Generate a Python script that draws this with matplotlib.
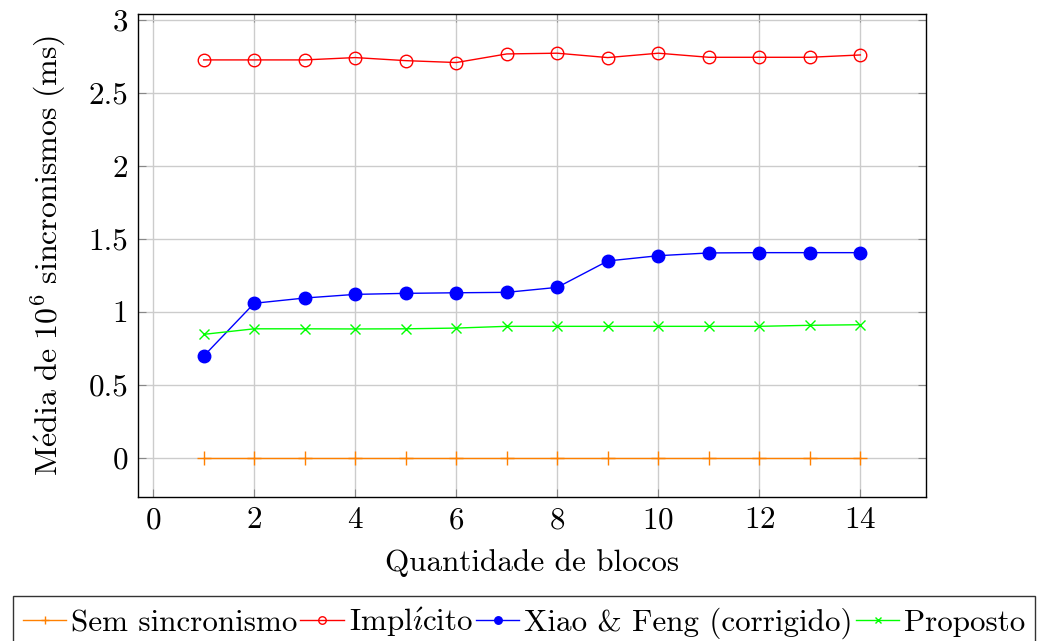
import matplotlib
matplotlib.use('Agg')
import matplotlib.pyplot as plt
from matplotlib.ticker import FuncFormatter

plt.rcParams['font.family'] = ['cmr10', 'DejaVu Serif']
plt.rcParams['mathtext.fontset'] = 'cm'
plt.rcParams['axes.formatter.use_mathtext'] = True
plt.rcParams['axes.unicode_minus'] = False

# dados
blocos = list(range(1, 15))
sem_sincronismo = [0.0] * 14
implicito = [2.726, 2.726, 2.726, 2.742, 2.721, 2.708, 2.767, 2.772, 2.742, 2.772, 2.744, 2.744, 2.744, 2.760]
xiao_feng = [0.696, 1.058, 1.094, 1.119, 1.126, 1.130, 1.133, 1.167, 1.348, 1.384, 1.403, 1.405, 1.405, 1.405]
proposto = [0.845, 0.883, 0.883, 0.882, 0.883, 0.888, 0.900, 0.900, 0.900, 0.900, 0.900, 0.900, 0.907, 0.911]

fs = 22.4

fig = plt.figure(figsize=(10.48, 6.41), dpi=100)
ax = fig.add_axes([0.1317, 0.2246, 0.7519, 0.7534])

ax.plot(blocos, sem_sincronismo, color=(1, 0.5, 0), marker='+', markersize=10, lw=1,
        label='Sem sincronismo')
ax.plot(blocos, implicito, color='red', marker='o', markerfacecolor='none', markersize=9, lw=1,
        label=r'$\mathrm{Impl\acute{\imath}cito}$')
ax.plot(blocos, xiao_feng, color='blue', marker='o', markersize=9, lw=1,
        label='Xiao & Feng (corrigido)')
ax.plot(blocos, proposto, color=(0, 1, 0), marker='x', markersize=7, lw=1,
        label='Proposto')

ax.set_xlim(-0.3, 15.3)
ax.set_ylim(-0.27, 3.04)
ax.set_xticks(range(0, 15, 2))
ax.set_yticks([0, 0.5, 1, 1.5, 2, 2.5, 3])
ax.yaxis.set_major_formatter(FuncFormatter(lambda v, p: '%g' % v))
ax.grid(True, color='#cccccc', lw=1)
ax.set_axisbelow(True)
ax.tick_params(direction='in', top=True, right=True, length=6, color='#888888',
               labelsize=fs, labelcolor='black')
ax.tick_params(axis='x', pad=7)
ax.tick_params(axis='y', pad=7)
for s in ax.spines.values():
    s.set_linewidth(1)

ax.set_xlabel('Quantidade de blocos', fontsize=fs, labelpad=11)
ax.set_ylabel(r'$\mathrm{M\acute{e}dia\ de\ 10^6\ sincronismos\ (ms)}$', fontsize=23, labelpad=15)

leg = fig.legend(loc='upper center', bbox_to_anchor=(0.5, 1 - 596 / 641), ncol=4,
                 fontsize=fs, frameon=True, fancybox=False, edgecolor='black',
                 handlelength=1.4, handletextpad=0.15, columnspacing=0.1,
                 borderpad=0.3, borderaxespad=0, markerscale=0.6)
leg.get_frame().set_linewidth(1)

fig.savefig('out.png', dpi=100)
